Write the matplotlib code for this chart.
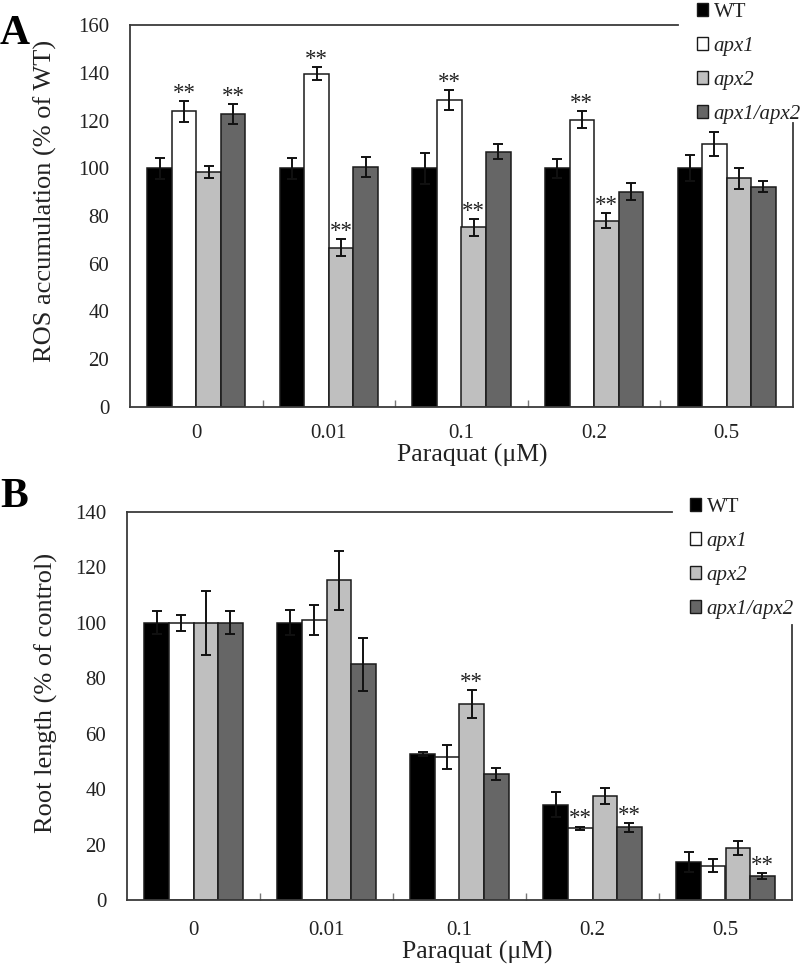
import matplotlib
matplotlib.use("Agg")
import matplotlib.pyplot as plt
from matplotlib.patches import Patch
import numpy as np

plt.rcParams['font.family'] = ['Liberation Serif', 'DejaVu Serif']

# ---------------- data ----------------
concentrations = ["0", "0.01", "0.1", "0.2", "0.5"]
genotypes = ["WT", "apx1", "apx2", "apx1/apx2"]
colors = ["#000000", "#ffffff", "#bfbfbf", "#666666"]

# Panel A: ROS accumulation (% of WT)
ros_wt = [100, 100, 100, 100, 100]
ros_wt_err = [4.3, 4.3, 6.4, 4.0, 5.5]
ros_apx1 = [123.8, 139.6, 128.7, 120.3, 110.2]
ros_apx1_err = [4.3, 2.6, 4.2, 3.5, 5.0]
ros_apx2 = [98.6, 66.8, 75.3, 78.1, 95.8]
ros_apx2_err = [2.5, 3.5, 3.5, 3.0, 4.5]
ros_dbl = [122.8, 100.7, 107.0, 90.2, 92.3]
ros_dbl_err = [4.1, 4.2, 3.3, 3.5, 2.4]
# significance marks (genotype index, concentration index)
ros_sig = [(1, 0), (3, 0), (1, 1), (2, 1), (1, 2), (2, 2), (1, 3), (2, 3)]

# Panel B: Root length (% of control)
root_wt = [100, 100, 52.6, 34.3, 13.7]
root_wt_err = [4.2, 4.5, 0.7, 4.5, 3.7]
root_apx1 = [100, 100.9, 51.5, 25.8, 12.4]
root_apx1_err = [3.0, 5.4, 4.3, 0.7, 2.4]
root_apx2 = [100, 115.3, 70.7, 37.5, 18.7]
root_apx2_err = [11.5, 10.8, 5.0, 3.0, 2.5]
root_dbl = [100, 85.0, 45.5, 26.2, 8.6]
root_dbl_err = [4.2, 9.6, 2.1, 1.6, 1.0]
root_sig = [(2, 2), (1, 3), (3, 3), (3, 4)]

ros_vals = [ros_wt, ros_apx1, ros_apx2, ros_dbl]
ros_errs = [ros_wt_err, ros_apx1_err, ros_apx2_err, ros_dbl_err]
root_vals = [root_wt, root_apx1, root_apx2, root_dbl]
root_errs = [root_wt_err, root_apx1_err, root_apx2_err, root_dbl_err]

TEXT = "#222222"
SPINE = "#3a3a3a"

fig = plt.figure(figsize=(8, 9.66), dpi=100)
axA = fig.add_axes([130/800, 1-407/966, 663/800, 382/966])
axB = fig.add_axes([127/800, 1-900/966, 665/800, 388/966])

width = 0.185
x = np.arange(len(concentrations))


def draw_panel(ax, vals, errs, sig, ymax, ylabel, top_end, right_end,
               ylab_xy, xlab_xy, xpad):
    for i, (v, e, c) in enumerate(zip(vals, errs, colors)):
        pos = x + (i - 1.5) * width
        ax.bar(pos, v, width, color=c, edgecolor="#1a1a1a", linewidth=1.1,
               zorder=2)
        ax.errorbar(pos, v, yerr=e, fmt="none", ecolor="#111111",
                    elinewidth=1.4, capsize=3.8, capthick=1.4, zorder=3)
    for gi, ci in sig:
        top = vals[gi][ci] + errs[gi][ci]
        ax.annotate("**", (x[ci] + (gi - 1.5) * width, top),
                    xytext=(0, 1.5), textcoords="offset points",
                    ha="center", va="baseline", fontsize=16.5, color=TEXT,
                    zorder=4)
    ax.set_xlim(-0.5, len(concentrations) - 0.5)
    ax.set_ylim(0, ymax)
    ax.set_yticks(np.arange(0, ymax + 1, 20))
    ax.set_xticks(x)
    ax.set_xticklabels(concentrations)
    ax.set_xticks(np.arange(0.5, len(concentrations) - 0.5, 1), minor=True)
    ax.tick_params(axis="x", which="major", length=0, pad=xpad,
                   labelsize=15, labelcolor=TEXT)
    ax.tick_params(axis="x", which="minor", length=5, direction="in",
                   width=1, color="#777777")
    ax.tick_params(axis="y", length=0, pad=15, labelsize=15,
                   labelcolor=TEXT)
    for s in ["top", "right"]:
        ax.spines[s].set_visible(False)
    for s in ["left", "bottom"]:
        ax.spines[s].set_color(SPINE)
        ax.spines[s].set_linewidth(1.3)
    ax.plot([0, top_end], [1, 1], transform=ax.transAxes, color=SPINE,
            lw=1.3, clip_on=False)
    ax.plot([1, 1], [0, right_end], transform=ax.transAxes, color=SPINE,
            lw=1.3, clip_on=False)
    ax.set_ylabel(ylabel, fontsize=19, color=TEXT)
    ax.yaxis.set_label_coords(*ylab_xy)
    ax.set_xlabel("Paraquat (μM)", fontsize=18.5, color=TEXT)
    ax.xaxis.set_label_coords(*xlab_xy)


draw_panel(axA, ros_vals, ros_errs, ros_sig, 160,
           "ROS accumulation (% of WT)", 0.826, 0.743,
           (-0.110, 0.54), (0.516, -0.097), 12)
draw_panel(axB, root_vals, root_errs, root_sig, 140,
           "Root length (% of control)", 0.82, 0.709,
           (-0.104, 0.534), (0.526, -0.106), 15)

handles = [Patch(facecolor=c, edgecolor="#1a1a1a", linewidth=1.0)
           for c in colors]


def add_legend(ax, xf, yf):
    leg = ax.legend(handles, genotypes, loc="upper left",
                    bbox_to_anchor=(xf, yf), bbox_transform=fig.transFigure,
                    frameon=False, fontsize=15, handlelength=0.55,
                    handleheight=0.55, handletextpad=0.25,
                    labelspacing=0.72, borderpad=0, borderaxespad=0)
    for i, t in enumerate(leg.get_texts()):
        t.set_color(TEXT)
        if i > 0:
            t.set_style("italic")
    return leg


add_legend(axA, 697/800, 1 - 3/966)
add_legend(axB, 690/800, 1 - 498/966)

fig.text(0.0, 1 - 34/966, "A", fontsize=30, fontweight="bold",
         va="center", ha="left", color="#000000")
fig.text(0.0, 1 - 497/966, "B", fontsize=30, fontweight="bold",
         va="center", ha="left", color="#000000")

fig.savefig("out.png", dpi=100)
